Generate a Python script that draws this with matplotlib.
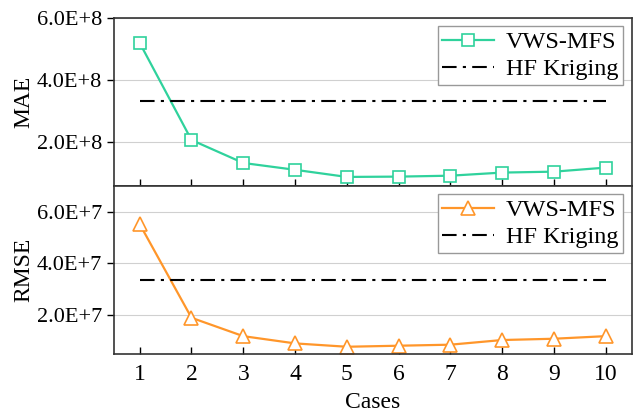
import numpy as np
import matplotlib
matplotlib.use("Agg")
import matplotlib.pyplot as plt

# data
cases = [1, 2, 3, 4, 5, 6, 7, 8, 9, 10]
mae_vws = [5.19e8, 2.06e8, 1.32e8, 1.10e8, 0.87e8, 0.88e8, 0.91e8, 1.01e8, 1.04e8, 1.17e8]
mae_hf = 3.32e8
rmse_vws = [5.52e7, 1.90e7, 1.19e7, 0.91e7, 0.78e7, 0.82e7, 0.86e7, 1.04e7, 1.09e7, 1.19e7]
rmse_hf = 3.37e7

green = "#2fd29c"
orange = "#ff962a"

plt.rcParams["font.family"] = ["Liberation Serif", "DejaVu Serif"]
plt.rcParams["font.size"] = 16

fig = plt.figure(figsize=(6.36, 4.15), dpi=100)
ax1 = fig.add_axes([0.179, 0.552, 0.814, 0.405])
ax2 = fig.add_axes([0.179, 0.147, 0.814, 0.405])


def style(ax, ticks, labels, ylim):
    ax.set_xlim(0.5, 10.5)
    ax.set_ylim(*ylim)
    ax.set_yticks(ticks)
    ax.set_yticklabels(labels)
    ax.set_xticks(cases)
    ax.grid(axis="y", color="#d0d0d0", lw=0.8)
    ax.set_axisbelow(True)
    ax.tick_params(axis="x", direction="in", length=5, width=1, pad=7, labelsize=17)
    ax.tick_params(axis="y", direction="out", length=5, width=1)
    for s in ax.spines.values():
        s.set_linewidth(1.2)
        s.set_color("#333333")


def add_legend(ax, pad):
    ax.legend(loc="upper right", fancybox=False, edgecolor="#999999", framealpha=1,
              fontsize=17.5, handlelength=2.1, borderpad=0.2, labelspacing=0.2,
              handletextpad=0.5, borderaxespad=pad)


# MAE panel
ax1.plot(cases, mae_vws, color=green, lw=1.6, marker="s", ms=9,
         mfc="white", mec=green, mew=1.2, label="VWS-MFS")
ax1.plot([cases[0], cases[-1]], [mae_hf, mae_hf], color="black", lw=1.5,
         ls=(0, (7, 3, 1.5, 3)), label="HF Kriging")
style(ax1, [2e8, 4e8, 6e8], ["2.0E+8", "4.0E+8", "6.0E+8"], (0.58e8, 6e8))
ax1.set_xticklabels([])
ax1.set_ylabel("MAE", labelpad=2, fontsize=17)
add_legend(ax1, 0.35)

# RMSE panel
ax2.plot(cases, rmse_vws, color=orange, lw=1.6, marker="^", ms=10,
         mfc="white", mec=orange, mew=1.2, label="VWS-MFS")
ax2.plot([cases[0], cases[-1]], [rmse_hf, rmse_hf], color="black", lw=1.5,
         ls=(0, (7, 3, 1.5, 3)), label="HF Kriging")
style(ax2, [2e7, 4e7, 6e7], ["2.0E+7", "4.0E+7", "6.0E+7"], (0.5e7, 7e7))
ax2.set_ylabel("RMSE", labelpad=2, fontsize=17)
ax2.set_xlabel("Cases", labelpad=5, fontsize=17)
add_legend(ax2, 0.35)

fig.savefig("out.png", dpi=100)
